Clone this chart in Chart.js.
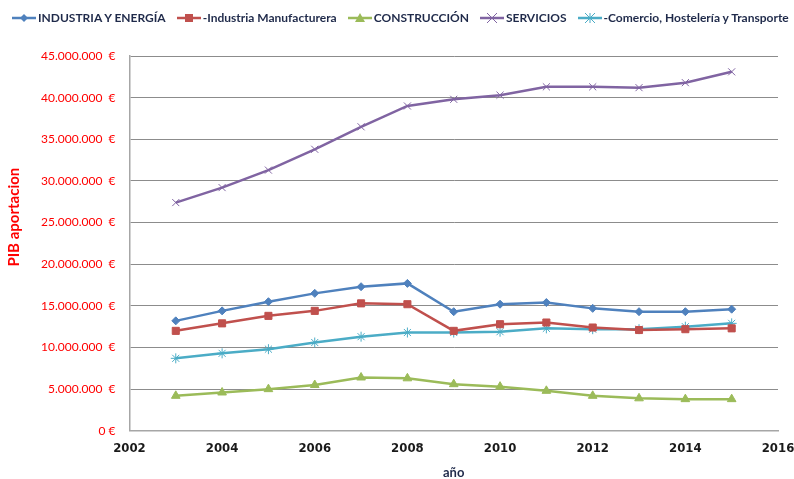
<!DOCTYPE html>
<html><head><meta charset="utf-8">
<script src="https://cdn.jsdelivr.net/npm/chart.js@4/dist/chart.umd.min.js"></script>
<style>
html,body{margin:0;padding:0;background:#fff;}
#wrap{position:relative;width:794px;height:479px;overflow:hidden;}
#legend{position:absolute;left:12px;top:10px;width:782px;white-space:nowrap;overflow:hidden;display:flex;align-items:center;font:bold 12px Lato, sans-serif;color:#1f2a4a;}
.li{display:flex;align-items:center;margin-right:11px;flex:none;}
.li canvas{margin-right:2px;}
</style></head>
<body>
<div id="wrap"><div id="legend"></div><canvas id="c" width="794" height="479"></canvas></div>
<script>
const years = [2003,2004,2005,2006,2007,2008,2009,2010,2011,2012,2013,2014,2015];
const industriaEnergia = [13.2,14.4,15.5,16.5,17.3,17.7,14.3,15.2,15.4,14.7,14.3,14.3,14.6];
const industriaManufacturera = [12.0,12.9,13.8,14.4,15.3,15.2,12.0,12.8,13.0,12.4,12.1,12.2,12.3];
const construccion = [4.2,4.6,5.0,5.5,6.4,6.3,5.6,5.3,4.8,4.2,3.9,3.8,3.8];
const servicios = [27.4,29.2,31.3,33.8,36.5,39.0,39.8,40.3,41.3,41.3,41.2,41.8,43.1];
const comercio = [8.7,9.3,9.8,10.6,11.3,11.8,11.8,11.9,12.3,12.2,12.2,12.5,12.9];
const seriesNames = ['INDUSTRIA Y ENERGÍA','-Industria Manufacturera','CONSTRUCCIÓN','SERVICIOS','-Comercio, Hostelería y Transporte'];
const xTicks = [2002,2004,2006,2008,2010,2012,2014,2016];
const yTitle = 'PIB aportacion';
const yMax = 45000000, yStep = 5000000;

const colors = ['#4F81BD','#C0504D','#9BBB59','#8064A2','#4BACC6'];
const styles = ['rectRot','rect','triangle','crossRot','star'];
const radii = [4,5,5,5,5];
const allSeries = [industriaEnergia,industriaManufacturera,construccion,servicios,comercio];

const datasets = allSeries.map((s,i)=>({
  label: seriesNames[i],
  data: years.map((y,j)=>({x:y, y:s[j]*1e6})),
  borderColor: colors[i],
  backgroundColor: colors[i],
  pointStyle: styles[i],
  pointRadius: radii[i],
  pointBorderWidth: 1,
  borderWidth: 2.5,
  tension: 0
}));

function fmt(v){
  if (v===0) return '0 €';
  return String(Math.round(v)).replace(/\B(?=(\d{3})+(?!\d))/g,'.') + '  €';
}

// HTML legend
const leg = document.getElementById('legend');
seriesNames.forEach((n,i)=>{
  const d = document.createElement('div'); d.className='li';
  const cv = document.createElement('canvas'); cv.width=24; cv.height=12;
  const c = cv.getContext('2d');
  c.strokeStyle=colors[i]; c.fillStyle=colors[i]; c.lineWidth=2.5;
  c.beginPath(); c.moveTo(0,6); c.lineTo(24,6); c.stroke();
  c.lineWidth=1;
  const cx=12, cy=6, r=radii[i];
  c.beginPath();
  if (styles[i]==='rectRot'){ c.moveTo(cx,cy-r);c.lineTo(cx+r,cy);c.lineTo(cx,cy+r);c.lineTo(cx-r,cy);c.closePath();c.fill(); }
  else if (styles[i]==='rect'){ c.fillRect(cx-r+1,cy-r+1,2*r-2,2*r-2); }
  else if (styles[i]==='triangle'){ c.moveTo(cx,cy-r);c.lineTo(cx+r,cy+r-1);c.lineTo(cx-r,cy+r-1);c.closePath();c.fill(); }
  else if (styles[i]==='crossRot'){ c.moveTo(cx-r,cy-r);c.lineTo(cx+r,cy+r);c.moveTo(cx+r,cy-r);c.lineTo(cx-r,cy+r);c.stroke(); }
  else { c.moveTo(cx-r,cy-r);c.lineTo(cx+r,cy+r);c.moveTo(cx+r,cy-r);c.lineTo(cx-r,cy+r);c.moveTo(cx,cy-r);c.lineTo(cx,cy+r);c.moveTo(cx-r,cy);c.lineTo(cx+r,cy);c.stroke(); }
  d.appendChild(cv);
  const t=document.createElement('span'); t.textContent=n; d.appendChild(t);
  leg.appendChild(d);
});

// y-axis title drawn slightly above centre, as in the reference
const yTitlePlugin = {
  id:'yTitle',
  afterDraw(chart){
    const {ctx, chartArea} = chart;
    const cy = chartArea.top + (chartArea.bottom - chartArea.top) * 0.43;
    ctx.save();
    ctx.translate(14, cy);
    ctx.rotate(-Math.PI/2);
    ctx.font = 'bold 15px Lato, sans-serif';
    ctx.fillStyle = '#ff0000';
    ctx.textAlign = 'center';
    ctx.textBaseline = 'middle';
    ctx.fillText(yTitle, 0, 0);
    ctx.restore();
  }
};

new Chart(document.getElementById('c'), {
  type: 'line',
  data: { datasets },
  plugins: [yTitlePlugin],
  options: {
    responsive:false, animation:false, devicePixelRatio:1,
    layout:{ padding:{ top:56, left:27, right:0, bottom:-2 } },
    plugins:{ legend:{display:false}, tooltip:{enabled:false} },
    scales:{
      x:{
        type:'linear', min:2002, max:2016,
        afterBuildTicks: ax => { ax.ticks = xTicks.map(v=>({value:v})); },
        afterFit: ax => { ax.paddingRight = 16; },
        grid:{ display:false, drawTicks:false },
        border:{ display:true, color:'#a6a6a6', width:1.5 },
        ticks:{ padding:10, color:'#1a1a1a', font:{ family:"'DejaVu Sans Condensed', 'Liberation Sans', sans-serif", weight:'bold', size:13 }, callback:v=>String(v) },
        title:{ display:true, text:'año', color:'#1f2a4a', font:{ family:'Lato', weight:'bold', size:13 }, padding:{top:-1,bottom:0} }
      },
      y:{
        min:0, max:yMax,
        ticks:{ stepSize:yStep, padding:14, color:'#ff0000', font:{ family:'Lato', size:12 }, callback:v=>fmt(v) },
        grid:{ color:'#8c8c8c', lineWidth:1, drawTicks:false },
        border:{ display:true, color:'#a6a6a6', width:1.5 },
        title:{ display:false }
      }
    }
  }
});
</script>
</body></html>
